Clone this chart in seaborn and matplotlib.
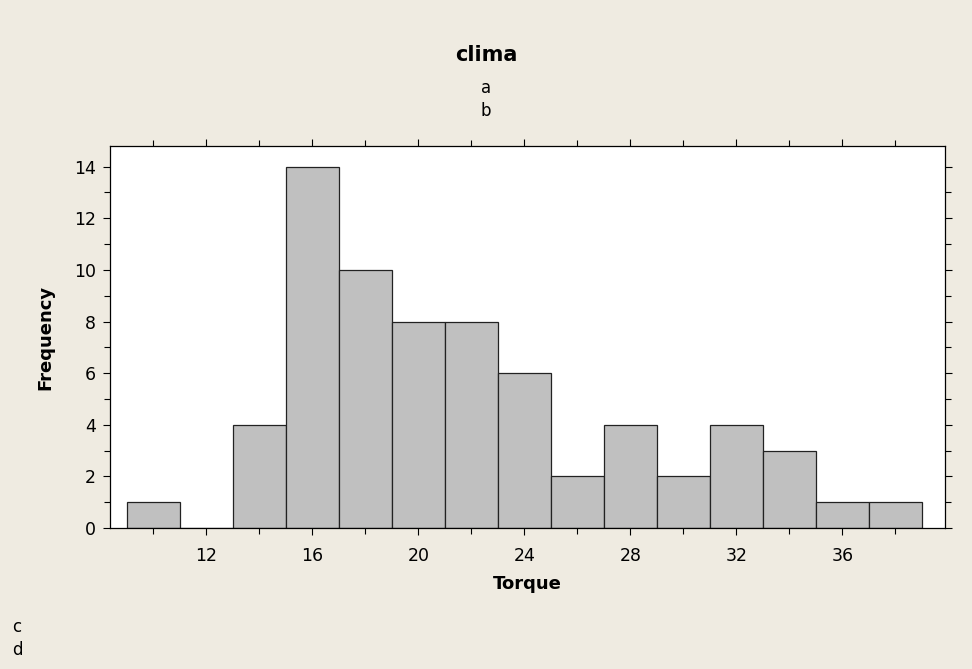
import matplotlib
matplotlib.use("Agg")
import matplotlib.pyplot as plt
import numpy as np
import seaborn as sns
from matplotlib.ticker import MultipleLocator

# Histogram of torque readings (bin width 2, starting at 9)
bin_edges = [9, 11, 13, 15, 17, 19, 21, 23, 25, 27, 29, 31, 33, 35, 37, 39]
counts = [1, 0, 4, 14, 10, 8, 8, 6, 2, 4, 2, 4, 3, 1, 1]
bin_centers = [(a + b) / 2 for a, b in zip(bin_edges[:-1], bin_edges[1:])]
x_ticks = [12, 16, 20, 24, 28, 32, 36]
y_ticks = [0, 2, 4, 6, 8, 10, 12, 14]

sns.set_style("white")
plt.rcParams['font.family'] = ['DejaVu Sans']
plt.rcParams['text.color'] = 'black'
plt.rcParams['axes.labelcolor'] = 'black'

bg = "#EFEBE1"
fig = plt.figure(figsize=(9.72, 6.69), dpi=100, facecolor=bg)
ax = fig.add_axes([110 / 972, 1 - 528 / 669, 835 / 972, 382 / 669])
ax.set_facecolor("white")

sns.histplot(x=bin_centers, weights=counts, bins=bin_edges, ax=ax,
             color="#C0C0C0", edgecolor="#222222", linewidth=0.9, alpha=1)

ax.set_xlim(8.36, 39.87)
ax.set_ylim(0, 14.8)
ax.set_xticks(x_ticks)
ax.xaxis.set_minor_locator(MultipleLocator(2))
ax.set_yticks(y_ticks)
ax.yaxis.set_minor_locator(MultipleLocator(1))
ax.tick_params(which="both", direction="out", top=True, right=True,
               bottom=True, left=True, labelsize=12.5, colors="black")
ax.tick_params(which="major", length=5, width=0.8)
ax.tick_params(which="minor", length=4, width=0.8)
ax.tick_params(axis="x", which="major", pad=9)
ax.tick_params(axis="y", which="major", pad=5)
for s in ax.spines.values():
    s.set_color("black")
    s.set_linewidth(0.9)

ax.set_xlabel("Torque", fontsize=13, fontweight="bold", labelpad=7)
ax.set_ylabel("Frequency", fontsize=13, fontweight="bold", labelpad=14)

fig.text(0.5, 1 - 55 / 669, "clima", ha="center", va="center",
         fontsize=15, fontweight="bold")
fig.text(0.5, 1 - 88 / 669, "a", ha="center", va="center", fontsize=12)
fig.text(0.5, 1 - 111 / 669, "b", ha="center", va="center", fontsize=12)
fig.text(12 / 972, 1 - 627 / 669, "c", ha="left", va="center", fontsize=12)
fig.text(12 / 972, 1 - 650 / 669, "d", ha="left", va="center", fontsize=12)

fig.savefig("out.png", dpi=100, facecolor=bg)
